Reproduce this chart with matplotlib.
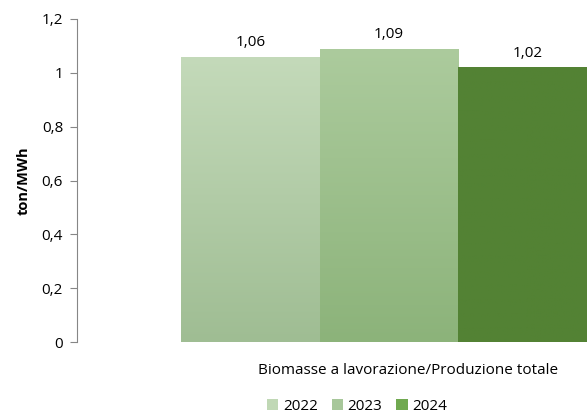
import matplotlib
matplotlib.use("Agg")
import matplotlib.pyplot as plt
import numpy as np
from matplotlib.colors import LinearSegmentedColormap
from matplotlib.patches import Patch

years = ["2022", "2023", "2024"]
values = [1.06, 1.09, 1.02]
labels = ["1,06", "1,09", "1,02"]
category = "Biomasse a lavorazione/Produzione totale"
yticks = [0, 0.2, 0.4, 0.6, 0.8, 1.0, 1.2]
yticklabels = ["0", "0,2", "0,4", "0,6", "0,8", "1", "1,2"]

top_colors = ["#C4DABA", "#ACCB9D", "#538234"]
bot_colors = ["#9FBD93", "#8CB37A", "#538234"]
legend_colors = ["#C0D8B5", "#A7C79A", "#70A950"]

plt.rcParams['font.family'] = ['Open Sans', 'DejaVu Sans']
FS = 11
W, H = 587, 417
fig = plt.figure(figsize=(W/100, H/100), dpi=100)
ax = fig.add_axes([77/W, (H-342)/H, (587-77)/W, (342-19)/H])

x = np.arange(len(values))
bars = ax.bar(x, values, width=1.0, color=top_colors, edgecolor='none', zorder=2)
ax.set_xlim(-1.2527, 2.4296)
ax.set_ylim(0, 1.2)

for b, tc, bc in zip(bars, top_colors, bot_colors):
    cmap = LinearSegmentedColormap.from_list("g", [bc, tc])
    grad = np.linspace(0, 1, 256).reshape(-1, 1)
    x0, y0 = b.get_x(), b.get_y()
    w, h = b.get_width(), b.get_height()
    im = ax.imshow(grad, cmap=cmap, origin='lower', aspect='auto',
                   extent=[x0, x0 + w, y0, y0 + h], zorder=3)
    im.set_clip_path(b)

for xi, v, lab in zip(x, values, labels):
    ax.text(xi, v + 0.025, lab, ha='center', va='bottom', fontsize=FS, color='#000000', zorder=4)

ax.set_yticks(yticks)
ax.set_yticklabels(yticklabels, fontsize=FS)
ax.tick_params(axis='y', length=5, width=0.8, color='#868686', pad=5)
ax.set_xticks([])
for s in ['top', 'right', 'bottom']:
    ax.spines[s].set_visible(False)
ax.spines['left'].set_color('#868686')
ax.spines['left'].set_linewidth(0.8)
ax.set_ylabel("ton/MWh", fontsize=10.5, fontweight='bold')
ax.yaxis.set_label_coords(-(77-31)/(587-77), 0.5)

fig.text(408/W, 1 - 370/H, category, ha='center', va='center', fontsize=FS)

handles = [Patch(facecolor=c, edgecolor='none', label=y) for c, y in zip(legend_colors, years)]
fig.legend(handles=handles, loc='center', bbox_to_anchor=(357/W, 1 - 406/H), ncol=3,
           frameon=False, fontsize=FS, handlelength=0.75, handleheight=0.75,
           handletextpad=0.3, columnspacing=0.9)

fig.savefig("out.png", dpi=100)
